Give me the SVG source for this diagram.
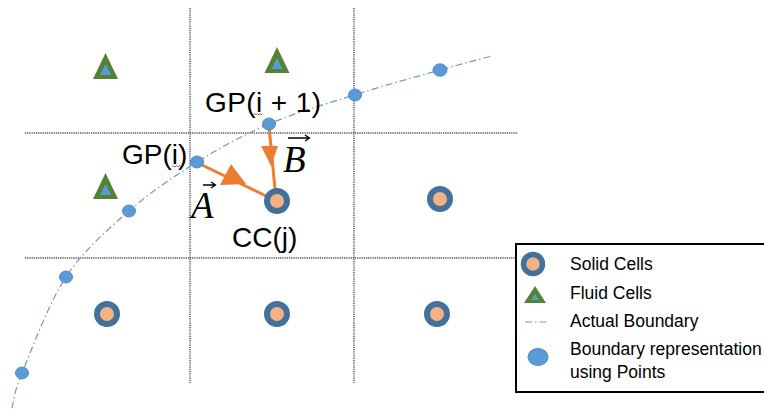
<svg xmlns="http://www.w3.org/2000/svg" width="764" height="410" viewBox="0 0 764 410">
<style>
.grid{stroke:#4d4d4d;stroke-width:1.4;stroke-dasharray:1.2 1;fill:none}
.bnd{stroke:#6f98cc;stroke-width:1.2;stroke-dasharray:7 3 1.5 3;fill:none}
.pt{fill:#5B9BD5;stroke:#4f8cc7;stroke-width:1}
.solid{fill:#F4B183;stroke:#41719C;stroke-width:6}
.tri-o{fill:#548235}
.tri-i{fill:#5B9BD5}
.lab{font-family:"Liberation Sans",Arial,sans-serif;font-size:28px;fill:#000}
.vec{font-family:"Liberation Serif","Times New Roman",serif;font-style:italic;font-size:37px;fill:#000}
.leg{font-family:"Liberation Sans",Arial,sans-serif;font-size:17.5px;fill:#000}
.arr{stroke:#ED7D31;stroke-width:3;fill:none}
.head{fill:#ED7D31}
.vbar{stroke:#000;stroke-width:1.3;fill:none}
.sq{stroke:#e03030;stroke-width:0.9;fill:none}
</style>
<rect width="764" height="410" fill="#fff"/>
<g id="grid">
<line class="grid" x1="25" y1="133" x2="518" y2="133"/>
<line class="grid" x1="25" y1="258" x2="516" y2="258"/>
<line class="grid" x1="190" y1="8" x2="190" y2="383"/>
<line class="grid" x1="354" y1="8" x2="354" y2="383"/>
</g>
<g id="boundary">
<path class="bnd" d="M12,408 C13.7,402.2 13,394.8 22,373 C31,351.2 48.2,304 66,277 C83.8,250 107.2,230.2 129,211 C150.8,191.8 173.7,176.5 197,162 C220.3,147.5 242.8,135.2 269,124 C295.2,112.8 325.5,104 354,95 C382.5,86 417,76.5 440,70 C463,63.5 483.3,58.3 492,56"/>
</g>
<g id="connectors">
<line class="arr" x1="198" y1="163" x2="266" y2="196"/>
<polygon class="head" points="220,185 231,164 246,184"/>
<line class="arr" x1="269" y1="126" x2="275" y2="189"/>
<polygon class="head" points="261,146 278,146 271,166"/>
</g>
<g id="fluid1"><polygon class="tri-o" points="105.5,53 118,79 93,79"/><polygon class="tri-i" points="105.5,64 111,75 100,75"/></g>
<g id="fluid2"><polygon class="tri-o" points="277,47 289.5,73 264.5,73"/><polygon class="tri-i" points="277,58 282.5,69 271.5,69"/></g>
<g id="fluid3"><polygon class="tri-o" points="105.5,173 118,199 93,199"/><polygon class="tri-i" points="105.5,184 111,195 100,195"/></g>
<g id="cc-j"><circle class="solid" cx="277" cy="201" r="10"/></g>
<g id="solid2"><circle class="solid" cx="440" cy="199" r="10"/></g>
<g id="solid3"><circle class="solid" cx="107" cy="314" r="10"/></g>
<g id="solid4"><circle class="solid" cx="277" cy="314" r="10"/></g>
<g id="solid5"><circle class="solid" cx="437" cy="314" r="10"/></g>
<g id="points">
<ellipse class="pt" cx="22" cy="373" rx="6.5" ry="6"/>
<ellipse class="pt" cx="66" cy="277" rx="6.5" ry="6"/>
<ellipse class="pt" cx="129" cy="211" rx="6.5" ry="6"/>
<ellipse id="gp-i" class="pt" cx="197" cy="162" rx="6.5" ry="6"/>
<ellipse id="gp-i1" class="pt" cx="269" cy="124" rx="6.5" ry="6"/>
<ellipse class="pt" cx="355" cy="95" rx="6.5" ry="6"/>
<ellipse class="pt" cx="440" cy="70" rx="7" ry="6.2"/>
</g>
<g id="labels">
<text class="lab" x="205" y="112" textLength="116" lengthAdjust="spacing">GP(i + 1)</text>
<path class="sq" d="M253,115 l1.5,-1.5 l1.5,1.5 l1.5,-1.5 l1.5,1.5 l1.5,-1.5 l1.5,1.5"/>
<text class="lab" x="122" y="164">GP(i)</text>
<path class="sq" d="M172,167 l1.5,-1.5 l1.5,1.5 l1.5,-1.5 l1.5,1.5 l1.5,-1.5 l1.5,1.5"/>
<text class="lab" x="232" y="247">CC(j)</text>
<text class="vec" x="191" y="218">A</text>
<path class="vbar" d="M203,185 L215,185 M211,182 L215.5,185 L211,188"/>
<text class="vec" x="283" y="172">B</text>
<path class="vbar" d="M288,138 L309,138 M305,135 L309.5,138 L305,141"/>
</g>
<g id="legend">
<rect x="516" y="244" width="260" height="148" fill="#fff" stroke="#000" stroke-width="2"/>
<circle class="solid" cx="533" cy="264" r="9.5" style="stroke-width:5.5"/>
<polygon class="tri-o" points="535,286 546,303 524,303"/>
<polygon class="tri-i" points="535,294 539,300 531,300"/>
<line class="bnd" x1="525" y1="322" x2="549" y2="322"/>
<ellipse class="pt" cx="538" cy="357" rx="10" ry="8.5"/>
<text class="leg" x="570" y="270">Solid Cells</text>
<text class="leg" x="570" y="299">Fluid Cells</text>
<text class="leg" x="570" y="327">Actual Boundary</text>
<text class="leg" x="570" y="355">Boundary representation</text>
<text class="leg" x="570" y="378">using Points</text>
</g>
</svg>
